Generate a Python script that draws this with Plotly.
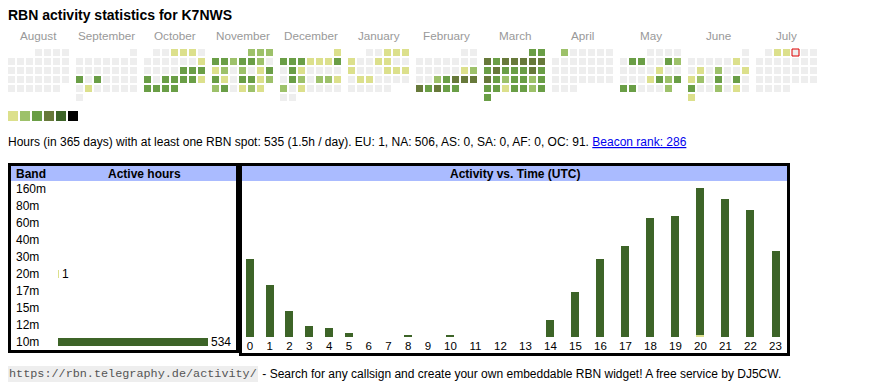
import datetime as dt
import plotly.graph_objects as go

# ---------------- data ----------------
TITLE = "RBN activity statistics for K7NWS"
month_names = ["August", "September", "October", "November", "December", "January",
               "February", "March", "April", "May", "June", "July"]
month_first = ["2024-08-01", "2024-09-01", "2024-10-01", "2024-11-01", "2024-12-01", "2025-01-01",
               "2025-02-01", "2025-03-01", "2025-04-01", "2025-05-01", "2025-06-01", "2025-07-01"]
today = "2025-07-04"

# daily activity level (0 = none ... 6 = max), one entry per day of the month
lv_aug = [0,0,0,0,0,0,0,0,0,0, 0,0,0,0,0,0,0,0,0,0, 0,0,0,0,0,0,0,0,0,0, 0]
lv_sep = [0,0,0,0,0,0,0,0,0,0, 0,0,0,0,0,3,0,3,0,0, 0,0,0,1,0,0,0,0,0,0]
lv_oct = [0,0,1,1,1,0,0,0,0,0, 0,0,1,0,0,0,0,3,3,3, 3,0,3,3,3,3,1,3,3,3, 3]
lv_nov = [2,2,2,3,3,2,3,3,2,0, 1,2,0,2,0,1,3,3,1,0, 3,3,1,2,2,3,0,1,2,1]
lv_dec = [1,3,3,3,1,1,1,3,0,3, 1,0,0,0,0,0,3,2,0,2, 2,1,2,0,1,0,0,0,0,0, 0]
lv_jan = [0,0,1,1,1,1,0,0,1,1, 0,0,1,0,0,0,1,1,1,0, 1,1,0,0,0,0,0,0,0,0, 0]
lv_feb = [0,0,0,0,0,0,0,0,0,0, 0,0,0,0,1,2,0,0,2,3, 4,4,4,4,3,4,3,3]
lv_mar = [3,3,4,3,4,4,4,4,4,3, 4,3,3,3,4,3,4,3,2,3, 3,2,3,3,3,1,3,3,2,3, 3]
lv_apr = [2,0,0,0,0,0,0,0,0,0, 0,0,0,0,0,0,0,0,0,0, 0,0,0,0,0,0,0,0,0,0]
lv_may = [0,0,0,0,0,3,3,0,0,3, 2,0,0,0,0,1,0,0,0,0, 0,1,3,2,3,3,3,0,0,0, 2]
lv_jun = [0,0,0,0,0,0,1,0,0,1, 0,2,0,0,1,1,2,0,3,0, 3,0,3,0,0,2,0,1,0,1]
lv_jul = [0,1,1,0,0,0,0,0,0,0, 0,0,0,0,0,0,0,0,0,0, 0,0,0,0,0,0,0,0,0,0, 0]
levels_by_month = [lv_aug, lv_sep, lv_oct, lv_nov, lv_dec, lv_jan,
                   lv_feb, lv_mar, lv_apr, lv_may, lv_jun, lv_jul]
legend_levels = [1, 2, 3, 4, 5, 6]

stats_text = ("Hours (in 365 days) with at least one RBN spot: 535 (1.5h / day). "
              "EU: 1, NA: 506, AS: 0, SA: 0, AF: 0, OC: 91.")
beacon_rank = 286

bands = ["160m", "80m", "60m", "40m", "30m", "20m", "17m", "15m", "12m", "10m"]
band_hours = [0, 0, 0, 0, 0, 1, 0, 0, 0, 534]

hour_labels = ["0", "1", "2", "3", "4", "5", "6", "7", "8", "9", "10", "11",
               "12", "13", "14", "15", "16", "17", "18", "19", "20", "21", "22", "23"]
hours_10m = [36, 24, 12, 5, 4, 2, 0, 0, 1, 0, 1, 0, 0, 0, 8, 21, 36, 42, 55, 56, 68, 64, 59, 40]
hours_20m = [0, 0, 0, 0, 0, 0, 0, 0, 0, 0, 0, 0, 0, 0, 0, 0, 0, 0, 0, 0, 1, 0, 0, 0]

footer_url = "https://rbn.telegraphy.de/activity/"
footer_text = " - Search for any callsign and create your own embeddable RBN widget! A free service by DJ5CW."

# ---------------- style ----------------
W, H = 870, 390
level_colors = ["#eeeeee", "#dce08c", "#9dc16a", "#6a9e46", "#67793a", "#3d6428", "#000000"]
band_colors = {"10m": "#3d6428", "20m": "#dce08c"}
HEAD_BG = "#aabbff"
SANS = "Liberation Sans, Arial, sans-serif"
MONO = "Liberation Mono, Courier New, monospace"

CAL_X0, CAL_Y0 = 8, 49
CELL, PITCH, MONTH_PITCH = 7, 9, 68


def px(x):
    return x / W


def py(y):
    return 1 - y / H


def note(x, y, text, size=12, color="#000000", anchor="left", family=SANS, **kw):
    d = dict(x=x, y=y, xref="x", yref="y", text=text, showarrow=False,
             xanchor=anchor, yanchor="middle", borderpad=0, borderwidth=0,
             font=dict(family=family, size=size, color=color))
    d.update(kw)
    return d


fig = go.Figure()

# ---------------- calendar ----------------
cx, cy, cc, ctext = [], [], [], []
tx, ty = None, None
for m, (first, lv) in enumerate(zip(month_first, levels_by_month)):
    d0 = dt.date.fromisoformat(first)
    off = d0.weekday()
    for i, v in enumerate(lv):
        pos = off + i
        x = CAL_X0 + m * MONTH_PITCH + (pos % 7) * PITCH + CELL / 2
        y = CAL_Y0 + (pos // 7) * PITCH + CELL / 2
        cx.append(x)
        cy.append(y)
        cc.append(level_colors[v])
        day = d0 + dt.timedelta(days=i)
        ctext.append(f"{day.isoformat()}: level {v}")
        if day.isoformat() == today:
            tx, ty = x, y

fig.add_trace(go.Scatter(
    x=cx, y=cy, mode="markers", xaxis="x", yaxis="y",
    marker=dict(symbol="square", size=CELL, color=cc, line=dict(width=0)),
    text=ctext, hoverinfo="text", showlegend=False))
if tx is not None:
    fig.add_trace(go.Scatter(
        x=[tx], y=[ty], mode="markers", xaxis="x", yaxis="y",
        marker=dict(symbol="square", size=CELL, color=level_colors[0],
                    line=dict(width=1, color="#dd0000")),
        hoverinfo="skip", showlegend=False))

# colour legend squares
fig.add_trace(go.Scatter(
    x=[CAL_X0 + 5 + 12 * i for i in range(len(legend_levels))],
    y=[116] * len(legend_levels), mode="markers", xaxis="x", yaxis="y",
    marker=dict(symbol="square", size=10, color=[level_colors[l] for l in legend_levels],
                line=dict(width=0)),
    hoverinfo="skip", showlegend=False))

annotations = []
for m, name in enumerate(month_names):
    annotations.append(note(CAL_X0 + m * MONTH_PITCH + (7 * PITCH - 2) / 2, 35, name,
                            size=11.7, color="#999999", anchor="center"))

annotations.append(note(8, 15, f"<b>{TITLE}</b>", size=14))
annotations.append(note(8, 142, stats_text + " <span style='color:#0000ee'><u>Beacon rank: "
                        + str(beacon_rank) + "</u></span>", size=12))

# ---------------- band table ----------------
fig.add_trace(go.Bar(
    y=bands, x=band_hours, orientation="h", xaxis="x3", yaxis="y3",
    marker=dict(color=[band_colors.get(b, "#3d6428") for b in bands], line=dict(width=0)),
    width=8 / 17,
    text=[str(v) if v else "" for v in band_hours], textposition="outside",
    constraintext="none",
    textfont=dict(family=SANS, size=12, color="#000000"), cliponaxis=False,
    hoverinfo="y+x", showlegend=False))

for b in bands:
    annotations.append(dict(x=px(16), y=b, xref="paper", yref="y3", text=b,
                            showarrow=False, xanchor="left", yanchor="middle",
                            borderpad=0, borderwidth=0,
                            font=dict(family=SANS, size=12, color="#000000")))

# ---------------- hours chart ----------------
col_w = [len(l) + 2.8 for l in hour_labels]
centers = []
acc = 0
for w in col_w:
    centers.append(acc + w / 2)
    acc += w
HX0, HX1 = 240, 788
unit_px = (HX1 - HX0) / acc
bar_w = 8 / unit_px

fig.add_trace(go.Bar(x=centers, y=hours_20m, xaxis="x2", yaxis="y2", width=bar_w,
                     marker=dict(color=band_colors["20m"], line=dict(width=0)),
                     name="20m", showlegend=False))
fig.add_trace(go.Bar(x=centers, y=hours_10m, xaxis="x2", yaxis="y2", width=bar_w,
                     marker=dict(color=band_colors["10m"], line=dict(width=0)),
                     name="10m", showlegend=False))
ymax = max(a + b for a, b in zip(hours_10m, hours_20m))

# ---------------- boxes & headers ----------------
shapes = [
    dict(type="rect", xref="x", yref="y", x0=11, x1=236, y0=166, y1=181,
         fillcolor=HEAD_BG, line=dict(width=0), layer="below"),
    dict(type="rect", xref="x", yref="y", x0=242, x1=787, y0=166, y1=181,
         fillcolor=HEAD_BG, line=dict(width=0), layer="below"),
    dict(type="rect", xref="x", yref="y", x0=9.5, x1=237.5, y0=164.5, y1=351.5,
         line=dict(width=3, color="#000000")),
    dict(type="rect", xref="x", yref="y", x0=240.5, x1=788.5, y0=164.5, y1=354.5,
         line=dict(width=3, color="#000000")),
]
annotations += [
    note(16, 173.5, "<b>Band</b>"),
    note(144.5, 173.5, "<b>Active hours</b>", anchor="center"),
    note(514.5, 173.5, "<b>Activity vs. Time (UTC)</b>", anchor="center"),
    note(8, 374, footer_url, size=11.8, color="#555555", family=MONO,
         bgcolor="#eeeeee", borderpad=1),
    note(259, 374, footer_text, size=12),
]

hidden = dict(showgrid=False, zeroline=False, showticklabels=False, ticks="", showline=False)
fig.update_layout(
    width=W, height=H, margin=dict(l=0, r=0, t=0, b=0),
    paper_bgcolor="#ffffff", plot_bgcolor="rgba(0,0,0,0)",
    barmode="stack", showlegend=False,
    xaxis=dict(domain=[0, 1], range=[0, W], fixedrange=True, **hidden),
    yaxis=dict(domain=[0, 1], range=[H, 0], fixedrange=True, **hidden),
    xaxis2=dict(domain=[px(HX0), px(HX1)], range=[0, acc], anchor="y2",
                showgrid=False, zeroline=False, showline=False, ticks="",
                tickvals=centers, ticktext=hour_labels, ticklabelstandoff=0,
                tickfont=dict(family=SANS, size=11.5, color="#000000"), fixedrange=True),
    yaxis2=dict(domain=[py(337), py(188)], range=[0, ymax], anchor="x2", **hidden),
    xaxis3=dict(domain=[px(58), px(208)], range=[0, max(band_hours)], anchor="y3", **hidden),
    yaxis3=dict(domain=[py(350.5), py(180.5)], range=[len(bands) - 0.5, -0.5],
                type="category", categoryorder="array", categoryarray=bands,
                anchor="x3", **hidden),
    shapes=shapes, annotations=annotations,
    font=dict(family=SANS),
)

fig.write_html("out.html", config={"displayModeBar": False},
               post_script="document.body.style.margin='0';")
